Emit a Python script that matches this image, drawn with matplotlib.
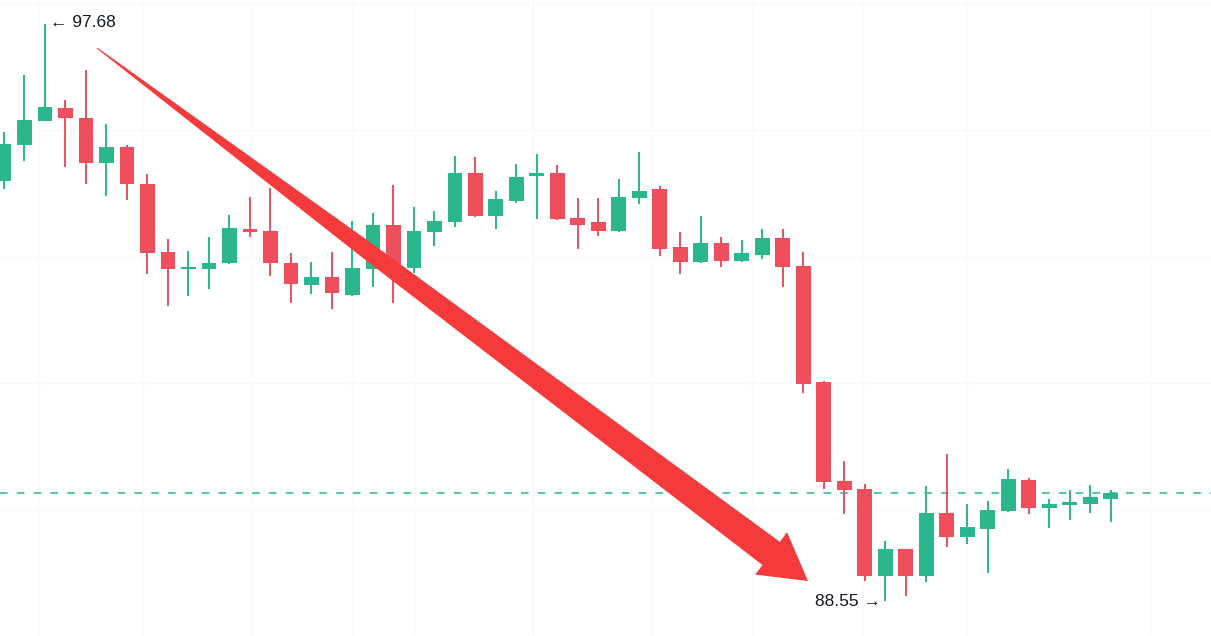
import numpy as np
import matplotlib.pyplot as plt
from matplotlib.patches import Rectangle, Polygon
from matplotlib.transforms import IdentityTransform

# OHLC
opens = [95.20, 95.77, 96.15, 96.35, 96.19, 95.48, 95.73, 95.15, 94.07, 93.80,
         93.80, 93.90, 94.44, 94.40, 93.90, 93.55, 93.68, 93.39, 93.80, 94.50,
         93.82, 94.39, 94.55, 95.32, 94.64, 94.88, 95.27, 95.32, 94.61, 94.55,
         94.40, 94.93, 95.07, 94.15, 93.91, 94.21, 93.93, 94.02, 94.29, 93.85,
         92.02, 90.45, 90.32, 88.95, 89.37, 88.95, 89.94, 89.56, 89.69, 89.97,
         90.47, 90.02, 90.07, 90.09, 90.16]
highs = [95.97, 96.87, 97.68, 96.48, 96.95, 96.10, 95.77, 95.31, 94.28, 94.09,
         94.31, 94.66, 94.94, 95.09, 94.06, 93.91, 94.07, 94.56, 94.69, 95.13,
         94.78, 94.72, 95.59, 95.58, 95.04, 95.46, 95.62, 95.45, 94.93, 94.93,
         95.23, 95.65, 95.12, 94.39, 94.64, 94.31, 94.26, 94.44, 94.44, 94.07,
         92.03, 90.77, 90.40, 89.50, 89.38, 90.37, 90.88, 90.09, 90.13, 90.64,
         90.50, 90.16, 90.31, 90.39, 90.31]
lows = [95.07, 95.51, 96.14, 95.42, 95.15, 94.96, 94.90, 93.72, 93.22, 93.38,
        93.49, 93.89, 94.31, 93.69, 93.27, 93.41, 93.17, 93.38, 93.52, 93.27,
        93.74, 94.17, 94.47, 94.63, 94.44, 94.85, 94.59, 94.58, 94.12, 94.33,
        94.39, 94.83, 94.01, 93.72, 93.90, 93.84, 93.92, 93.96, 93.52, 91.84,
        90.32, 89.93, 88.87, 88.55, 88.63, 88.85, 89.40, 89.45, 88.99, 89.96,
        89.93, 89.71, 89.83, 89.94, 89.80]
closes = [95.78, 96.16, 96.37, 96.19, 95.48, 95.73, 95.15, 94.06, 93.80, 93.84,
          93.90, 94.45, 94.39, 93.90, 93.57, 93.68, 93.42, 93.82, 94.50, 93.82,
          94.40, 94.56, 95.32, 94.64, 94.91, 95.26, 95.32, 94.59, 94.50, 94.40,
          94.94, 95.04, 94.12, 93.91, 94.21, 93.93, 94.06, 94.29, 93.84, 91.98,
          90.43, 90.31, 88.95, 89.37, 88.95, 89.94, 89.56, 89.72, 89.99, 90.48,
          90.02, 90.09, 90.12, 90.20, 90.26]

high_label = "← 97.68"
low_label = "88.55 →"
grid_x = [1.7, 6.8, 12.1, 17.0, 20.0, 25.8, 31.6, 36.5, 41.9, 47.0, 55.9]
grid_y = [88, 90, 92, 94, 96, 98]

up_col = "#2bb78e"
down_col = "#ef4f5c"

fig = plt.figure(figsize=(12.11, 6.36), dpi=100)
ax = fig.add_axes([0, 0, 1, 1])
ax.set_xlim(-0.195, 58.88)
ax.set_ylim(88.00, 98.06)
ax.axis("off")

# very faint grid
for gx in grid_x:
    ax.axvline(gx, color="#f8f9fa", lw=1.0, zorder=0)
for gy in grid_y:
    ax.axhline(gy, color="#f8f9fa", lw=1.0, zorder=0)

# last price line
ax.axhline(closes[-1], color=up_col, lw=1.1, dashes=(5, 6), zorder=1)

w = 0.73
for i, (o, h, l, c) in enumerate(zip(opens, highs, lows, closes)):
    col = up_col if c >= o else down_col
    ax.vlines(i, l, h, color=col, lw=1.4, zorder=2)
    lo = min(o, c)
    hgt = max(abs(c - o), 0.035)
    ax.add_patch(Rectangle((i - w / 2, lo), w, hgt, facecolor=col,
                           edgecolor="none", zorder=3))

# high / low labels
i_hi = int(np.argmax(highs))
i_lo = int(np.argmin(lows))
ax.annotate(high_label, (i_hi, highs[i_hi]), xytext=(3.5, 1), textcoords="offset points",
            ha="left", va="center", fontsize=12.5, color="#131722",
            family=["Liberation Sans", "DejaVu Sans"], zorder=6)
ax.annotate(low_label, (i_lo, lows[i_lo]), xytext=(-3, 0), textcoords="offset points",
            ha="right", va="center", fontsize=12.5, color="#131722",
            family=["Liberation Sans", "DejaVu Sans"], zorder=6)

# big red arrow drawn in pixel space
tail = ax.transData.transform((4.54, 97.30))
tip = ax.transData.transform((39.22, 88.87))
d = tip - tail
u = d / np.hypot(*d)
n = np.array([-u[1], u[0]])
head_len, head_half, shaft_half, tail_half = 46, 26.5, 14.5, 0.5
base = tip - u * head_len
mid = tail + (base - tail) * 0.4
mid_half = 8.5
pts = [tail + n * tail_half, mid + n * mid_half, base + n * shaft_half,
       base + n * head_half, tip, base - n * head_half, base - n * shaft_half,
       mid - n * mid_half, tail - n * tail_half]
ax.add_patch(Polygon(pts, closed=True, transform=IdentityTransform(),
                     facecolor="#f53a3c", edgecolor="none", zorder=5))

fig.savefig("out.png", dpi=100, facecolor="white")
